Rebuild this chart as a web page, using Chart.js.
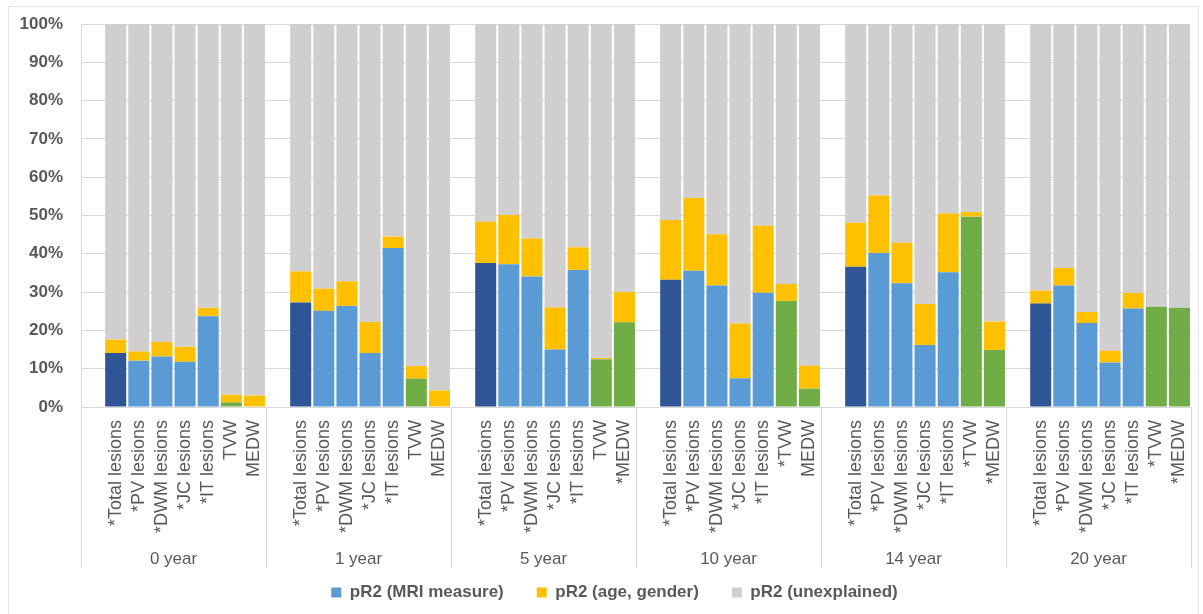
<!DOCTYPE html>
<html>
<head>
<meta charset="utf-8">
<script src="https://cdn.jsdelivr.net/npm/chart.js@4"></script>
<style>
  body { margin: 0; background: #fff; }
  #wrap { width: 1203px; height: 614px; }
</style>
</head>
<body>
<div id="wrap"><canvas id="pr2Chart" width="1203" height="614"></canvas></div>
<script>
// Data (percent of variance)
const groups = ['0 year', '1 year', '5 year', '10 year', '14 year', '20 year'];

const measures = [
    ['*Total lesions', '*PV lesions', '*DWM lesions', '*JC lesions', '*IT lesions', 'TVW', 'MEDW'],
    ['*Total lesions', '*PV lesions', '*DWM lesions', '*JC lesions', '*IT lesions', 'TVW', 'MEDW'],
    ['*Total lesions', '*PV lesions', '*DWM lesions', '*JC lesions', '*IT lesions', 'TVW', '*MEDW'],
    ['*Total lesions', '*PV lesions', '*DWM lesions', '*JC lesions', '*IT lesions', '*TVW', 'MEDW'],
    ['*Total lesions', '*PV lesions', '*DWM lesions', '*JC lesions', '*IT lesions', '*TVW', '*MEDW'],
    ['*Total lesions', '*PV lesions', '*DWM lesions', '*JC lesions', '*IT lesions', '*TVW', '*MEDW']
];

const mriMeasure = [
    [14.1, 12.1, 13.2, 11.8, 23.7, 1.2, 0],
    [27.3, 25.1, 26.4, 14.1, 41.5, 7.4, 0],
    [37.6, 37.3, 34.1, 15.0, 35.8, 12.5, 22.1],
    [33.2, 35.6, 31.7, 7.5, 29.8, 27.7, 4.8],
    [36.6, 40.2, 32.3, 16.2, 35.2, 49.7, 14.9],
    [27.0, 31.7, 21.9, 11.6, 25.7, 26.2, 25.9]
];

const ageGender = [
    [3.5, 2.4, 3.8, 3.9, 2.2, 2.0, 3.0],
    [8.1, 5.8, 6.4, 8.1, 3.0, 3.3, 4.3],
    [10.8, 12.8, 9.9, 11.0, 5.9, 0.3, 7.9],
    [15.6, 19.0, 13.4, 14.3, 17.5, 4.4, 6.0],
    [11.5, 15.0, 10.6, 10.7, 15.3, 1.2, 7.4],
    [3.4, 4.6, 2.9, 3.1, 4.1, 0, 0]
];

const unexplained = [
    [82.4, 85.5, 83.0, 84.3, 74.1, 96.8, 97.0],
    [64.6, 69.1, 67.2, 77.8, 55.5, 89.3, 95.7],
    [51.6, 49.9, 56.0, 74.0, 58.3, 87.2, 70.0],
    [51.2, 45.4, 54.9, 78.2, 52.7, 67.9, 89.2],
    [51.9, 44.8, 57.1, 73.1, 49.5, 49.1, 77.7],
    [69.6, 63.7, 75.2, 85.3, 70.2, 73.8, 74.1]
];

// colours of the MRI bar by position in a group
const mriColors = ['#2F5597', '#5B9BD5', '#5B9BD5', '#5B9BD5', '#5B9BD5', '#70AD47', '#70AD47'];
const legendColors = ['#5B9BD5', '#FFC000', '#D0CECE'];
const textColor = '#595959';
const lineColor = '#D9D9D9';

// flatten: one empty slot in front of each group
const labels = [], mriData = [], ageData = [], restData = [], barColors = [];
groups.forEach((g, i) => {
    labels.push('');
    mriData.push(null); ageData.push(null); restData.push(null);
    barColors.push(mriColors[1]);
    measures[i].forEach((m, j) => {
        labels.push(m);
        mriData.push(mriMeasure[i][j]);
        ageData.push(ageGender[i][j]);
        restData.push(unexplained[i][j]);
        barColors.push(mriColors[j]);
    });
});
const slotsPerGroup = measures[0].length + 1;

// outer frame
const framePlugin = {
    id: 'frame',
    beforeDraw(chart) {
        const ctx = chart.ctx;
        ctx.save();
        ctx.strokeStyle = '#E6E6E6';
        ctx.lineWidth = 1;
        ctx.strokeRect(8.5, 6.5, 1190, 640);
        ctx.restore();
    },
    // legend sits a little right of the canvas centre in the original
    afterLayout(chart) {
        chart.legend.left += 14;
        chart.legend.right += 14;
    }
};

// group dividers and group names under the rotated labels
const groupPlugin = {
    id: 'groupLabels',
    afterDraw(chart) {
        const { ctx, chartArea, scales: { x } } = chart;
        const half = (x.getPixelForValue(1) - x.getPixelForValue(0)) / 2;
        ctx.save();
        ctx.strokeStyle = lineColor;
        ctx.lineWidth = 1;
        ctx.fillStyle = textColor;
        ctx.font = '17px "Liberation Sans", Arial, sans-serif';
        ctx.textAlign = 'center';
        ctx.textBaseline = 'middle';
        groups.forEach((g, i) => {
            const left = x.getPixelForValue(i * slotsPerGroup) - half;
            const right = x.getPixelForValue(i * slotsPerGroup + slotsPerGroup - 1) + half;
            const edges = i === groups.length - 1 ? [left, right] : [left];
            edges.forEach(px => {
                const xx = Math.round(px) + 0.5;
                ctx.beginPath();
                ctx.moveTo(xx, chartArea.bottom);
                ctx.lineTo(xx, chartArea.bottom + 161);
                ctx.stroke();
            });
            ctx.fillText(g, (left + right) / 2, chartArea.bottom + 152);
        });
        ctx.restore();
    }
};

const ctx = document.getElementById('pr2Chart').getContext('2d');
new Chart(ctx, {
    type: 'bar',
    data: {
        labels: labels,
        datasets: [
            { label: 'pR2 (MRI measure)', data: mriData, backgroundColor: barColors },
            { label: 'pR2 (age, gender)', data: ageData, backgroundColor: '#FFC000' },
            { label: 'pR2 (unexplained)', data: restData, backgroundColor: '#D0CECE' }
        ]
    },
    options: {
        responsive: false,
        animation: false,
        devicePixelRatio: 1,
        barPercentage: 0.91,
        categoryPercentage: 1,
        layout: { padding: { left: 10, right: 12, top: 24, bottom: 3 } },
        scales: {
            x: {
                stacked: true,
                grid: { display: false },
                border: { display: true, color: lineColor },
                ticks: {
                    autoSkip: false,
                    minRotation: 90,
                    maxRotation: 90,
                    padding: 5,
                    color: textColor,
                    font: { family: '"Liberation Sans", Arial, sans-serif', size: 18 }
                },
                afterFit(scale) {
                    scale.height = 144;
                    scale.paddingLeft = 0;
                    scale.paddingRight = 0;
                }
            },
            y: {
                stacked: true,
                min: 0,
                max: 100,
                grid: { color: lineColor, drawTicks: false },
                border: { display: true, color: lineColor },
                ticks: {
                    stepSize: 10,
                    padding: 18,
                    color: textColor,
                    font: { family: '"Liberation Sans", Arial, sans-serif', size: 17, weight: 'bold' },
                    callback: v => v + '%'
                },
                afterFit(scale) {
                    scale.width = 71;
                    scale.paddingTop = 0;
                    scale.paddingBottom = 0;
                }
            }
        },
        plugins: {
            legend: {
                position: 'bottom',
                labels: {
                    boxWidth: 10,
                    boxHeight: 10,
                    padding: 33,
                    color: textColor,
                    font: { family: '"Liberation Sans", Arial, sans-serif', size: 17, weight: 'bold' },
                    generateLabels(chart) {
                        const items = Chart.defaults.plugins.legend.labels.generateLabels(chart);
                        items.forEach((it, i) => {
                            it.fillStyle = legendColors[i];
                            it.strokeStyle = legendColors[i];
                            it.lineWidth = 0;
                        });
                        return items;
                    }
                }
            },
            tooltip: { enabled: false }
        }
    },
    plugins: [framePlugin, groupPlugin]
});
</script>
</body>
</html>
